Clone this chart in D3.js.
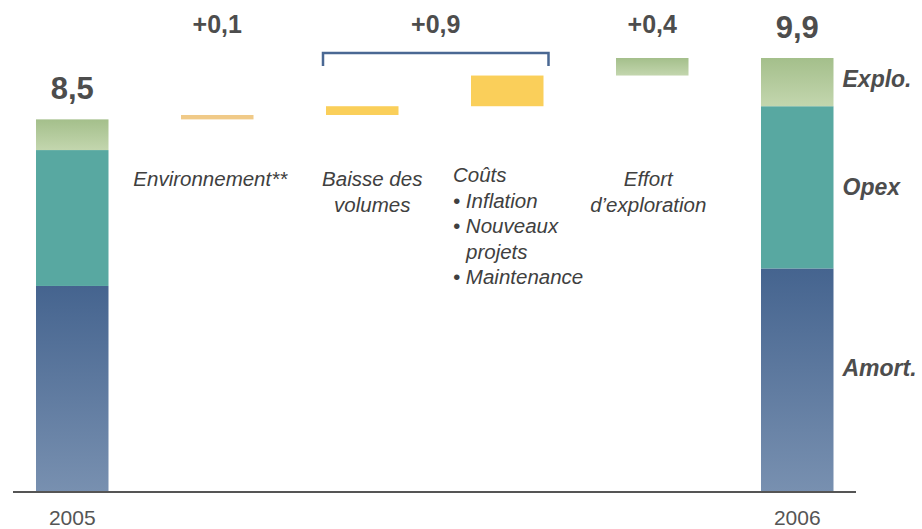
<!DOCTYPE html>
<html>
<head>
<meta charset="utf-8">
<script src="https://cdn.jsdelivr.net/npm/d3@7"></script>
<style>
  html, body { margin: 0; padding: 0; background: #fff; }
  svg { display: block; font-family: "Liberation Sans", Arial, sans-serif; }
</style>
</head>
<body>
<svg id="chart" width="922" height="529"></svg>
<script>
// Columns of the bridge, left to right
const categories = ["2005", "Environnement", "Baisse", "Couts", "Effort", "2006"];
const yearLabels = ["2005", "2006"];

// Stacked components of each annual total (bottom to top)
const segments = ["Amort.", "Opex", "Explo."];
const values2005 = [4.7, 3.1, 0.7];
const values2006 = [5.1, 3.7, 1.1];

// Intermediate variations between the two years
const stepCategories = ["Environnement", "Baisse", "Couts", "Effort"];
const stepValues = [0.1, 0.2, 0.7, 0.4];
const stepKinds = ["env", "cost", "cost", "explo"];

// Variation groups shown with one label each
const groupMembers = [["Environnement"], ["Baisse", "Couts"], ["Effort"]];

// Explanatory text under each variation
const stepTexts = {
  Environnement: [{ t: "Environnement**", anchor: "middle" }],
  Baisse: [{ t: "Baisse des", anchor: "middle" }, { t: "volumes", anchor: "middle" }],
  Couts: [
    { t: "Coûts", anchor: "start", indent: 0 },
    { t: "• Inflation", anchor: "start", indent: 0 },
    { t: "• Nouveaux", anchor: "start", indent: 0 },
    { t: "projets", anchor: "start", indent: 13 },
    { t: "• Maintenance", anchor: "start", indent: 0 }
  ],
  Effort: [{ t: "Effort", anchor: "middle" }, { t: "d’exploration", anchor: "middle" }]
};
// Horizontal nudge of each text block relative to its bar centre
const textShift = { Environnement: -7, Baisse: 10, Couts: 0, Effort: -4 };

const svg = d3.select("#chart");
const fr = d3.formatLocale({ decimal: ",", thousands: " ", grouping: [3], currency: ["", " €"] });
const fmt = fr.format(".1f");
const fmtSigned = fr.format("+.1f");

const total2005 = d3.sum(values2005);
const total2006 = d3.sum(values2006);

const x = d3.scaleBand()
  .domain(categories)
  .range([36, 833.5])
  .paddingInner(0.5)
  .paddingOuter(0);

const y = d3.scaleLinear()
  .domain([0, total2006])
  .range([492, 58]);

const bw = x.bandwidth();

// Gradients
const defs = svg.append("defs");
function vGrad(id, top, bottom) {
  const g = defs.append("linearGradient").attr("id", id)
    .attr("x1", 0).attr("y1", 0).attr("x2", 0).attr("y2", 1);
  g.append("stop").attr("offset", "0%").attr("stop-color", top);
  g.append("stop").attr("offset", "100%").attr("stop-color", bottom);
}
vGrad("gAmort", "#45648f", "#7890b0");
vGrad("gExplo", "#a4bf8b", "#c3d6ae");

const segFill = { "Amort.": "url(#gAmort)", "Opex": "#58a8a1", "Explo.": "url(#gExplo)" };
const stepFill = { env: "#f0ca88", cost: "#facf5a", explo: "url(#gExplo)" };

// Stacked totals
function stackBar(cat, values) {
  let acc = 0;
  const g = svg.append("g");
  values.forEach((v, i) => {
    const y0 = acc, y1 = acc + v;
    acc = y1;
    g.append("rect")
      .attr("x", x(cat))
      .attr("width", bw)
      .attr("y", y(y1))
      .attr("height", y(y0) - y(y1))
      .attr("fill", segFill[segments[i]]);
  });
  svg.append("text")
    .attr("x", x(cat) + bw / 2)
    .attr("y", y(acc) - 20)
    .attr("text-anchor", "middle")
    .attr("font-size", 31)
    .attr("font-weight", "bold")
    .attr("fill", "#4d4d4d")
    .text(fmt(acc));
}
stackBar("2005", values2005);
stackBar("2006", values2006);

// Floating variation bars
let running = total2005;
stepCategories.forEach((cat, i) => {
  const v0 = running, v1 = running + stepValues[i];
  running = v1;
  svg.append("rect")
    .attr("x", x(cat))
    .attr("width", bw)
    .attr("y", y(Math.max(v0, v1)))
    .attr("height", Math.abs(y(v0) - y(v1)))
    .attr("fill", stepFill[stepKinds[i]]);
});

// Group labels (and bracket for multi-bar groups)
groupMembers.forEach(members => {
  const total = d3.sum(members, m => stepValues[stepCategories.indexOf(m)]);
  const left = x(members[0]);
  const right = x(members[members.length - 1]) + bw;
  let cx = (left + right) / 2;
  if (members.length > 1) {
    const bx0 = left - 3, bx1 = right + 5, by = 53, bTick = 13;
    svg.append("path")
      .attr("d", `M${bx0},${by + bTick}V${by}H${bx1}V${by + bTick}`)
      .attr("fill", "none")
      .attr("stroke", "#4a6893")
      .attr("stroke-width", 2.5);
    cx = (bx0 + bx1) / 2;
  }
  svg.append("text")
    .attr("x", cx)
    .attr("y", 33)
    .attr("text-anchor", "middle")
    .attr("font-size", 25)
    .attr("font-weight", "bold")
    .attr("fill", "#4d4d4d")
    .text(fmtSigned(total));
});

// Explanatory texts
stepCategories.forEach(cat => {
  const lines = stepTexts[cat];
  const cx = x(cat) + bw / 2 + textShift[cat];
  const lineGap = cat === "Couts" ? 25.5 : 26;
  const firstBase = cat === "Couts" ? 182 : 186;
  lines.forEach((l, i) => {
    svg.append("text")
      .attr("x", l.anchor === "middle" ? cx : x(cat) - 18 + (l.indent || 0))
      .attr("y", firstBase + i * lineGap)
      .attr("text-anchor", l.anchor)
      .attr("font-size", 20.5)
      .attr("font-style", "italic")
      .attr("fill", "#404040")
      .text(l.t);
  });
});

// Component labels next to the final total
const labelY = { "Amort.": 376, "Opex": 195, "Explo.": 87 };
segments.forEach(s => {
  svg.append("text")
    .attr("x", x("2006") + bw + 9)
    .attr("y", labelY[s])
    .attr("font-size", 23)
    .attr("font-weight", "bold")
    .attr("font-style", "italic")
    .attr("fill", "#4d4d4d")
    .text(s);
});

// Baseline
svg.append("line")
  .attr("x1", 13).attr("x2", 856)
  .attr("y1", y(0)).attr("y2", y(0))
  .attr("stroke", "#555")
  .attr("stroke-width", 2);

// Year labels
yearLabels.forEach(yr => {
  svg.append("text")
    .attr("x", x(yr) + bw / 2)
    .attr("y", 525)
    .attr("text-anchor", "middle")
    .attr("font-size", 21)
    .attr("fill", "#555")
    .text(yr);
});
</script>
</body>
</html>
